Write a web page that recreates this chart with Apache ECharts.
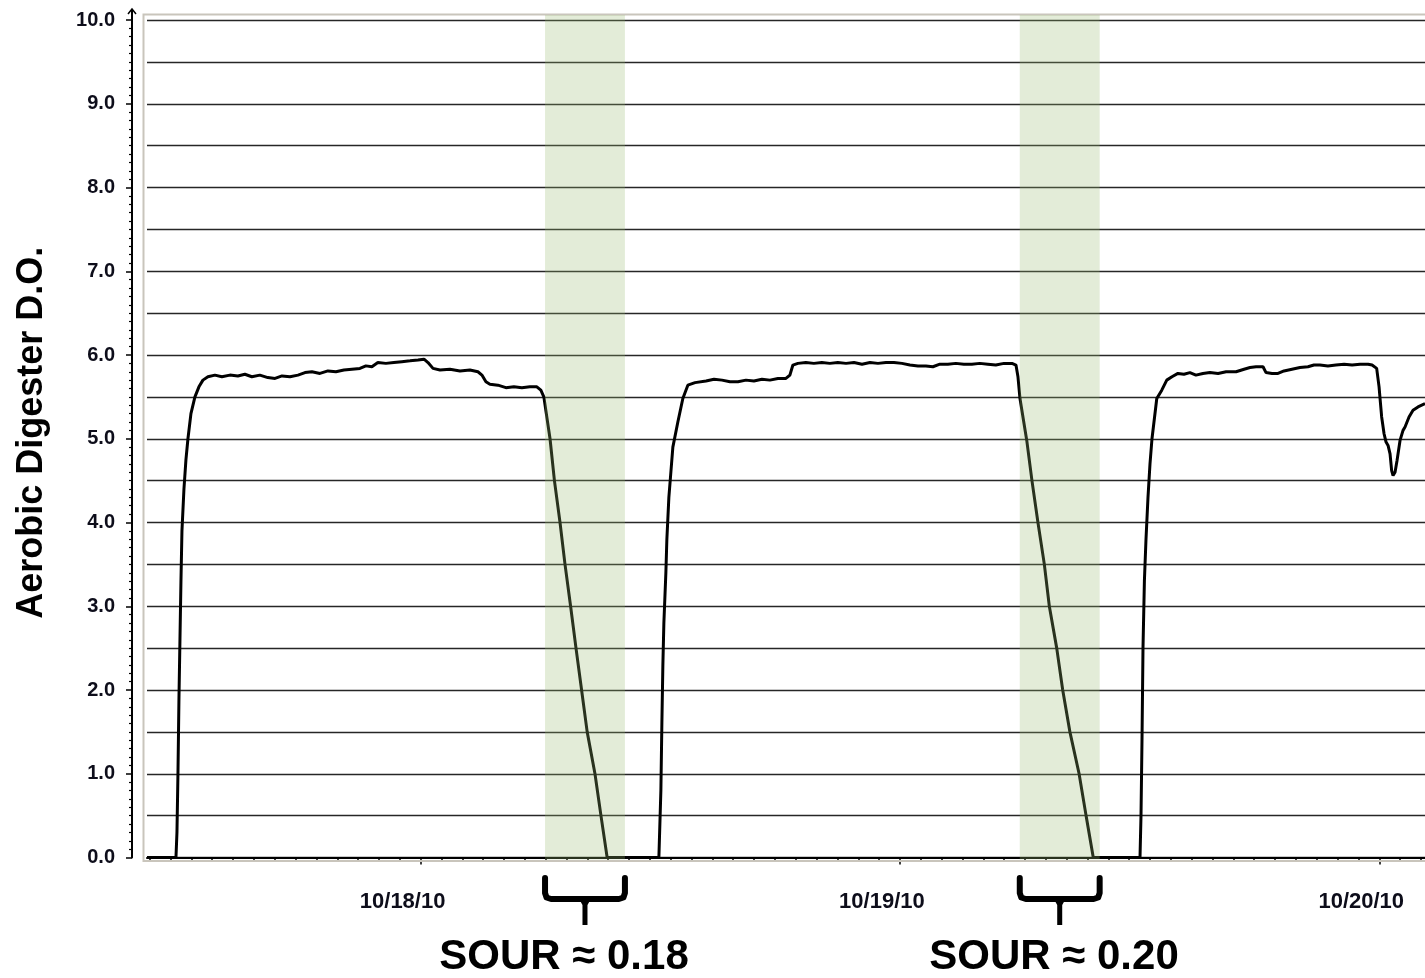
<!DOCTYPE html>
<html><head><meta charset="utf-8">
<script src="https://cdn.jsdelivr.net/npm/echarts@6/dist/echarts.min.js"></script>
<style>html,body{margin:0;padding:0;background:#fff}#c{width:1425px;height:978px}</style>
</head><body><div id="c"></div>
<script>
// hours since 10/17/10 00:00
const hours = [
 10.30, 11.75, 11.80, 11.85, 11.90, 11.95, 12.00, 12.05, 12.15, 12.25, 12.35, 12.50, 12.70, 12.90, 13.10, 13.35,
 13.70, 14.05, 14.45, 14.85, 15.20, 15.55, 15.95, 16.35, 16.71, 17.06, 17.46, 17.86, 18.21, 18.56, 18.96, 19.36,
 19.76, 20.16, 20.56, 20.96, 21.26, 21.56, 21.86, 22.26, 22.66, 23.06, 23.47, 23.87, 24.17, 24.37, 24.62, 24.97,
 25.47, 25.97, 26.47, 26.87, 27.07, 27.27, 27.47, 27.87, 28.27, 28.67, 29.07, 29.47, 29.82, 30.02, 30.17,
 30.48, 30.70, 30.98, 31.23, 31.51, 31.78, 32.06, 32.34, 32.73, 33.03, 33.34,
 35.93, 35.98, 36.03, 36.08, 36.13, 36.18, 36.28, 36.33, 36.43, 36.53, 36.63, 36.88, 37.13, 37.38, 37.74, 38.29,
 38.69, 39.09, 39.49, 39.89, 40.29, 40.69, 41.09, 41.49, 41.89, 42.29, 42.49, 42.64, 42.89, 43.29, 43.69, 44.09,
 44.49, 44.89, 45.30, 45.70, 46.10, 46.50, 46.90, 47.30, 47.70, 48.10, 48.50, 48.90, 49.30, 49.65, 50.00, 50.40,
 50.80, 51.20, 51.60, 52.00, 52.40, 52.80, 53.21, 53.61, 53.81, 53.91, 54.01,
 54.35, 54.61, 54.91, 55.23, 55.48, 55.85, 56.15, 56.51, 56.97, 57.32, 57.68,
 60.02, 60.07, 60.12, 60.17, 60.24, 60.32, 60.42, 60.52, 60.62, 60.86, 61.11, 61.36, 61.62, 61.92, 62.22, 62.52,
 62.82, 63.17, 63.52, 63.93, 64.33, 64.83, 65.23, 65.53, 65.83, 66.18, 66.33, 66.63, 66.93, 67.23, 67.63, 68.03,
 68.43, 68.73, 69.03, 69.43, 69.83, 70.24, 70.64, 71.04, 71.44, 71.64, 71.87, 71.99, 72.04, 72.12, 72.24, 72.34,
 72.44, 72.54, 72.62, 72.69, 72.79, 72.89, 73.04, 73.19, 73.29, 73.49, 73.69, 73.94, 74.29
];
const doValues = [
 0, 0, 0.3, 1.0, 1.9, 2.6, 3.3, 3.9, 4.4, 4.75, 5.0, 5.3, 5.5, 5.62, 5.70, 5.74,
 5.76, 5.74, 5.76, 5.75, 5.77, 5.74, 5.76, 5.73, 5.72, 5.75, 5.74, 5.76, 5.79, 5.80, 5.78, 5.81,
 5.80, 5.82, 5.83, 5.84, 5.87, 5.86, 5.91, 5.90, 5.91, 5.92, 5.93, 5.94, 5.95, 5.91, 5.84, 5.82,
 5.83, 5.81, 5.82, 5.80, 5.76, 5.68, 5.65, 5.64, 5.61, 5.62, 5.61, 5.62, 5.62, 5.58, 5.50,
 5.0, 4.5, 4.0, 3.5, 3.0, 2.5, 2.0, 1.5, 1.0, 0.5, 0,
 0, 0.4, 0.8, 1.6, 2.3, 2.8, 3.4, 3.8, 4.3, 4.6, 4.9, 5.2, 5.48, 5.64, 5.67, 5.69,
 5.71, 5.70, 5.68, 5.68, 5.70, 5.69, 5.71, 5.70, 5.72, 5.72, 5.76, 5.88, 5.90, 5.91, 5.90, 5.91,
 5.90, 5.91, 5.90, 5.91, 5.89, 5.91, 5.90, 5.91, 5.91, 5.90, 5.88, 5.87, 5.87, 5.86, 5.89, 5.89,
 5.90, 5.89, 5.89, 5.90, 5.89, 5.88, 5.90, 5.90, 5.88, 5.74, 5.48,
 4.98, 4.5, 4.0, 3.5, 3.0, 2.5, 2.0, 1.5, 1.0, 0.5, 0,
 0, 0.5, 1.4, 2.5, 3.3, 3.8, 4.3, 4.7, 5.0, 5.48, 5.58, 5.70, 5.74, 5.78, 5.77, 5.79,
 5.76, 5.78, 5.79, 5.78, 5.80, 5.80, 5.83, 5.85, 5.86, 5.86, 5.79, 5.78, 5.78, 5.81, 5.83, 5.85,
 5.86, 5.88, 5.88, 5.87, 5.88, 5.89, 5.88, 5.89, 5.89, 5.88, 5.84, 5.62, 5.48, 5.26, 5.06, 4.96,
 4.92, 4.82, 4.62, 4.56, 4.60, 4.74, 4.98, 5.10, 5.14, 5.26, 5.34, 5.38, 5.42
];
const dayTicks = [24, 48, 72];
const dayLabels = ['10/18/10', '10/19/10', '10/20/10'];
const bandStart = [30.23, 54.0];
const bandEnd = [34.23, 58.0];
const sourLabels = ['SOUR \u2248 0.18', 'SOUR \u2248 0.20'];
const yTitle = 'Aerobic Digester D.O.';
const xMin = 10.30, xMax = 74.29;

const minorTicks = [];
for (let k = -14; k <= 60; k++) {
  const v = 24 + k * 24 / 23;
  if (v < xMin || v > xMax) continue;
  minorTicks.push(v);
}

const FONT = '"Liberation Sans", Arial, Helvetica, sans-serif';
const chart = echarts.init(document.getElementById('c'));
chart.setOption({
  animation: false,
  backgroundColor: '#fff',
  grid: { left: 147, right: 0, top: 20, bottom: 120.5, containLabel: false },
  xAxis: [
    { type: 'value', min: xMin, max: xMax, position: 'bottom', offset: 13.5,
      axisLine: { show: true, lineStyle: { color: '#000', width: 2 } },
      axisTick: { show: true, customValues: minorTicks, length: 3, lineStyle: { color: '#000', width: 1.5 } },
      axisLabel: { show: false }, splitLine: { show: false } },
    { type: 'value', min: xMin, max: xMax, position: 'bottom', offset: 13.5,
      axisLine: { show: false },
      axisTick: { show: true, customValues: dayTicks, length: 7, lineStyle: { color: '#000', width: 1.5 } },
      axisLabel: { show: true, customValues: dayTicks, formatter: v => dayLabels[dayTicks.indexOf(v)] || '',
        fontFamily: FONT, fontWeight: 'bold', fontSize: 22, color: '#0d0d1a', margin: 20, padding: [0, 36, 0, 0] },
      splitLine: { show: false } }
  ],
  yAxis: [
    { type: 'value', min: 0, max: 10, interval: 0.5, position: 'left',
      axisLine: { show: false }, axisTick: { show: false }, axisLabel: { show: false },
      splitLine: { show: true, lineStyle: { color: '#262626', width: 1.4 } } },
    { type: 'value', min: 0, max: 10, interval: 1, position: 'left', offset: 15,
      axisLine: { show: true, lineStyle: { color: '#000', width: 2 } },
      axisTick: { show: true, length: 6, lineStyle: { color: '#000', width: 1.5 } },
      minorTick: { show: true, splitNumber: 10, length: 3, lineStyle: { color: '#000', width: 1.2 } },
      axisLabel: { formatter: v => v.toFixed(1), margin: 17, fontFamily: FONT, fontWeight: 'bold', fontSize: 20, color: '#0d0d1a' },
      splitLine: { show: false },
      name: yTitle, nameLocation: 'middle', nameGap: 82,
      nameTextStyle: { fontFamily: FONT, fontWeight: 'bold', fontSize: 36, color: '#000', padding: [0, 0, 0, 12] } }
  ],
  series: [
    { type: 'line', xAxisIndex: 0, yAxisIndex: 0, data: hours.map((h, i) => [h, doValues[i]]),
      showSymbol: false, symbol: 'none', silent: true, z: 3,
      lineStyle: { color: '#000', width: 3 } },
    { type: 'custom', xAxisIndex: 0, yAxisIndex: 0, silent: true, z: 10,
      data: bandStart.map((s, i) => [s, bandEnd[i]]),
      renderItem: (params, api) => {
        const a = api.coord([api.value(0), 10]);
        const b = api.coord([api.value(1), 0]);
        return { type: 'rect', shape: { x: a[0], y: a[1] - 5, width: b[0] - a[0], height: b[1] - a[1] + 7 },
          style: { fill: 'rgba(150,185,110,0.27)' } };
      } }
  ]
});

const px = v => chart.convertToPixel({ xAxisIndex: 0 }, v);
const py = v => chart.convertToPixel({ yAxisIndex: 0 }, v);
const gx0 = px(xMin), yTop = py(10), yBot = py(0);
const axX = gx0 - 15;
const gfx = [
  { type: 'rect', silent: true, z: 1,
    shape: { x: gx0 - 3.5, y: yTop - 5.5, width: 1500, height: yBot - yTop + 9 },
    style: { fill: null, stroke: '#c9c5bc', lineWidth: 2 } },
  { type: 'line', silent: true, z: 1,
    shape: { x1: axX, y1: yTop, x2: axX, y2: yTop - 11 }, style: { stroke: '#000', lineWidth: 2 } },
  { type: 'polyline', silent: true, z: 1,
    shape: { points: [[axX - 4, yTop - 6], [axX, yTop - 11], [axX + 4, yTop - 6]] },
    style: { stroke: '#000', lineWidth: 1.5, fill: null } }
];
const textX = [564, 1054];
bandStart.forEach((s, i) => {
  const xa = px(s), xb = px(bandEnd[i]), xm = (xa + xb) / 2;
  gfx.push({ type: 'polyline', silent: true, z: 5,
    shape: { points: [[xa, 878], [xa, 893], [xa + 1.5, 897.5], [xa + 6, 899], [xb - 6, 899], [xb - 1.5, 897.5], [xb, 893], [xb, 878]] },
    style: { stroke: '#000', lineWidth: 6, fill: null, lineCap: 'round', lineJoin: 'round' } });
  gfx.push({ type: 'polygon', silent: true, z: 5,
    shape: { points: [[xm - 7, 897], [xm + 7, 897], [xm + 2.5, 905], [xm + 2.5, 925], [xm - 2.5, 925], [xm - 2.5, 905]] },
    style: { fill: '#000' } });
  gfx.push({ type: 'text', silent: true, z: 5, x: textX[i], y: 957,
    style: { text: sourLabels[i], font: 'bold 42px ' + FONT, fill: '#000', align: 'center', verticalAlign: 'middle' } });
});
chart.setOption({ graphic: gfx });
</script></body></html>
